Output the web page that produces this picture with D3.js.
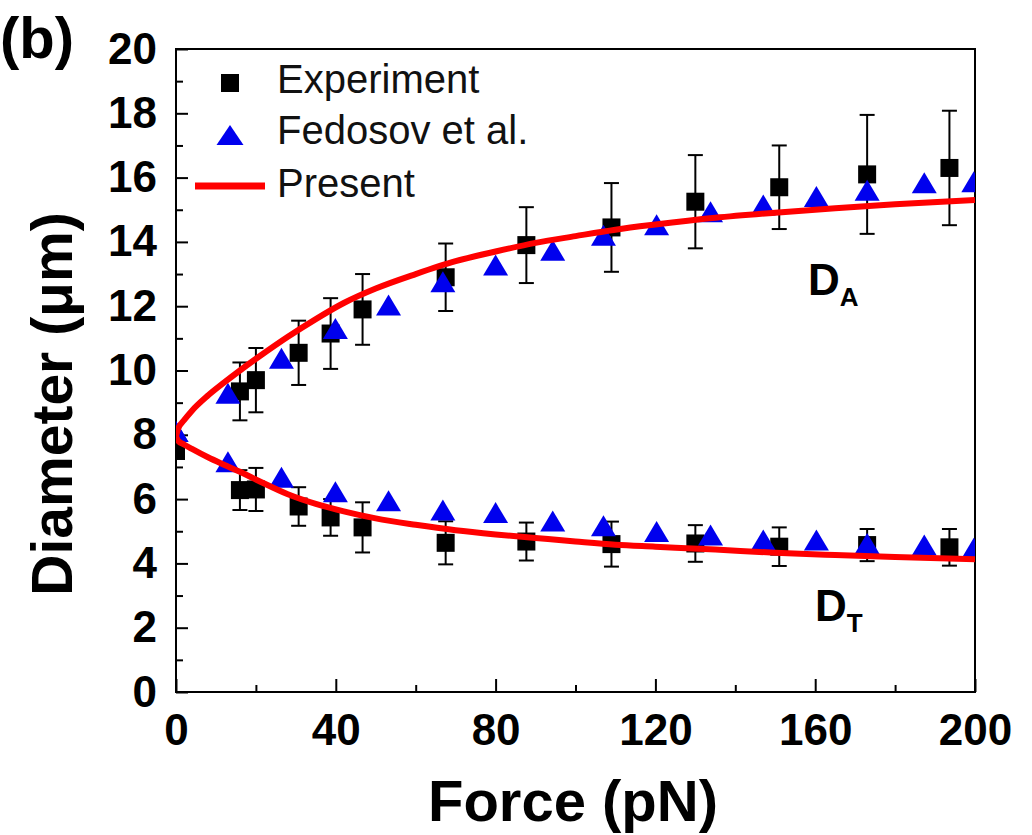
<!DOCTYPE html>
<html>
<head>
<meta charset="utf-8">
<script src="https://cdn.jsdelivr.net/npm/d3@7"></script>
<style>
  body { margin: 0; background: #fff; }
  text { font-family: "Liberation Sans", Arial, sans-serif; }
</style>
</head>
<body>
<svg id="chart" width="1032" height="835"></svg>
<script>
// experiment (squares with error bars)
let expF     = [0, 16, 20, 30.7, 38.7, 46.7, 67.5, 87.7, 109, 130, 151, 173, 193.6];
let expDA    = [7.5, 9.35, 9.7, 10.55, 11.15, 11.9, 12.9, 13.9, 14.45, 15.25, 15.7, 16.1, 16.3];
let expDAerr = [0, 0.9, 1.0, 1.0, 1.1, 1.1, 1.05, 1.18, 1.38, 1.45, 1.3, 1.85, 1.78];
let expDT    = [7.5, 6.28, 6.3, 5.77, 5.43, 5.12, 4.64, 4.68, 4.6, 4.62, 4.52, 4.57, 4.5];
let expDTerr = [0, 0.62, 0.67, 0.6, 0.57, 0.78, 0.67, 0.59, 0.7, 0.57, 0.6, 0.5, 0.57];

// Fedosov et al. (triangles)
let fedF  = [0, 13, 26.4, 39.9, 53.2, 66.8, 80, 94.3, 107, 120.3, 133.8, 147, 160.3, 173, 187.3, 199.7];
let fedDA = [8.1, 9.29, 10.38, 11.31, 12.04, 12.76, 13.28, 13.74, 14.21, 14.53, 14.94, 15.15, 15.41, 15.61, 15.84, 15.87];
let fedDT = [8.1, 7.16, 6.68, 6.23, 5.95, 5.66, 5.58, 5.32, 5.17, 4.99, 4.88, 4.73, 4.73, 4.62, 4.57, 4.47];

// Present (red curves)
let curveF  = [0, 0.5, 2, 4, 8, 12, 16, 21, 28, 35, 42, 50, 60, 70, 80, 90, 100, 110, 120, 135, 150, 165, 180, 200];
let curveDA = [7.95, 8.18, 8.45, 8.75, 9.22, 9.62, 10.0, 10.45, 11.05, 11.6, 12.1, 12.55, 13.0, 13.4, 13.7, 13.97, 14.18, 14.38, 14.54, 14.75, 14.91, 15.05, 15.17, 15.3];
let curveDT = [7.95, 7.82, 7.7, 7.56, 7.3, 7.07, 6.85, 6.55, 6.15, 5.85, 5.62, 5.4, 5.2, 5.03, 4.9, 4.79, 4.68, 4.58, 4.52, 4.43, 4.33, 4.26, 4.2, 4.13];

let xMajor = [0, 40, 80, 120, 160, 200];
let xMinor = [20, 60, 100, 140, 180];
let yMajor = [0, 2, 4, 6, 8, 10, 12, 14, 16, 18, 20];
let yMinor = [1, 3, 5, 7, 9, 11, 13, 15, 17, 19];

let svg = d3.select("#chart");

let x = d3.scaleLinear().domain([0, 200]).range([176, 975]);
let y = d3.scaleLinear().domain([0, 20]).range([692, 49]);

svg.append("defs").append("clipPath").attr("id", "plotClip")
   .append("rect")
   .attr("x", x(0)).attr("y", y(20))
   .attr("width", x(200) - x(0)).attr("height", y(0) - y(20));

// axes
let styleAxis = (g) => {
    g.select(".domain").remove();
    g.selectAll("line").attr("stroke", "#000").attr("stroke-width", 2);
    g.selectAll("text").attr("fill", "#000")
     .style("font-size", "44px").style("font-weight", "bold");
};

svg.append("g").attr("transform", `translate(0,${y(0)})`)
   .call(d3.axisBottom(x).tickValues(xMajor).tickSize(-13).tickPadding(22).tickFormat(d3.format("d")))
   .call(styleAxis);
svg.append("g").attr("transform", `translate(0,${y(0)})`)
   .call(d3.axisBottom(x).tickValues(xMinor).tickSize(-7).tickFormat(""))
   .call(styleAxis);
svg.append("g").attr("transform", `translate(${x(0)},0)`)
   .call(d3.axisLeft(y).tickValues(yMajor).tickSize(-12).tickPadding(19).tickFormat(d3.format("d")))
   .call(styleAxis);
svg.append("g").attr("transform", `translate(${x(0)},0)`)
   .call(d3.axisLeft(y).tickValues(yMinor).tickSize(-7).tickFormat(""))
   .call(styleAxis);

// frame
svg.append("rect")
   .attr("x", x(0)).attr("y", y(20))
   .attr("width", x(200) - x(0)).attr("height", y(0) - y(20))
   .attr("fill", "none").attr("stroke", "#000").attr("stroke-width", 2);

let plot = svg.append("g").attr("clip-path", "url(#plotClip)");

// error bars
let drawErrors = (vals, errs) => {
    let g = plot.append("g").attr("stroke", "#000").attr("stroke-width", 2);
    expF.forEach((f, i) => {
        if (errs[i] <= 0) return;
        let cx = x(f), top = y(vals[i] + errs[i]), bot = y(vals[i] - errs[i]);
        g.append("line").attr("x1", cx).attr("x2", cx).attr("y1", top).attr("y2", bot);
        g.append("line").attr("x1", cx - 7.5).attr("x2", cx + 7.5).attr("y1", top).attr("y2", top);
        g.append("line").attr("x1", cx - 7.5).attr("x2", cx + 7.5).attr("y1", bot).attr("y2", bot);
    });
};
drawErrors(expDA, expDAerr);
drawErrors(expDT, expDTerr);

// squares
let sq = 18;
[expDA, expDT].forEach(vals => {
    plot.append("g").selectAll("rect").data(expF).enter().append("rect")
        .attr("x", (f) => x(f) - sq / 2)
        .attr("y", (f, i) => y(vals[i]) - sq / 2)
        .attr("width", sq).attr("height", sq)
        .attr("fill", "#000");
});

// triangles
let triPath = (w, h) => `M0,${-h / 2}L${w / 2},${h / 2}L${-w / 2},${h / 2}Z`;
[fedDA, fedDT].forEach(vals => {
    plot.append("g").selectAll("path").data(fedF).enter().append("path")
        .attr("d", triPath(25, 21))
        .attr("transform", (f, i) => `translate(${x(f)},${y(vals[i])})`)
        .attr("fill", "#0000ee");
});

// present curves
let line = d3.line().x(d => x(d[0])).y(d => y(d[1])).curve(d3.curveMonotoneX);
[curveDA, curveDT].forEach(vals => {
    plot.append("path")
        .attr("d", line(curveF.map((f, i) => [f, vals[i]])))
        .attr("fill", "none").attr("stroke", "#ff0000").attr("stroke-width", 6);
});

// legend
let legend = svg.append("g");
legend.append("rect").attr("x", 230 - sq / 2).attr("y", 83 - sq / 2)
      .attr("width", sq).attr("height", sq).attr("fill", "#000");
legend.append("path").attr("d", triPath(27, 20))
      .attr("transform", "translate(230,135)").attr("fill", "#0000ee");
legend.append("line").attr("x1", 195).attr("x2", 265).attr("y1", 186).attr("y2", 186)
      .attr("stroke", "#ff0000").attr("stroke-width", 7);
let legendText = ["Experiment", "Fedosov et al.", "Present"];
let legendBase = [93, 144, 197];
legendText.forEach((t, i) => {
    legend.append("text").attr("x", 277).attr("y", legendBase[i])
          .style("font-size", "40px").attr("fill", "#111").text(t);
});

// curve labels
let curveLabel = (xp, yp, sub) => {
    let t = svg.append("text").attr("x", xp).attr("y", yp)
               .style("font-size", "44px").style("font-weight", "bold").attr("fill", "#000");
    t.append("tspan").text("D");
    t.append("tspan").attr("dy", 11).style("font-size", "26px").text(sub);
};
curveLabel(808, 295, "A");
curveLabel(815, 621, "T");

// axis titles
svg.append("text").attr("x", 573).attr("y", 821).attr("text-anchor", "middle")
   .style("font-size", "58px").style("font-weight", "bold").attr("fill", "#000")
   .text("Force (pN)");
svg.append("text").attr("transform", "translate(72,404) rotate(-90)").attr("text-anchor", "middle")
   .style("font-size", "57px").style("font-weight", "bold").attr("fill", "#000")
   .text("Diameter (μm)");

// panel label
svg.append("text").attr("x", 0).attr("y", 58)
   .style("font-size", "58px").style("font-weight", "bold").attr("fill", "#000")
   .text("(b)");
</script>
</body>
</html>
